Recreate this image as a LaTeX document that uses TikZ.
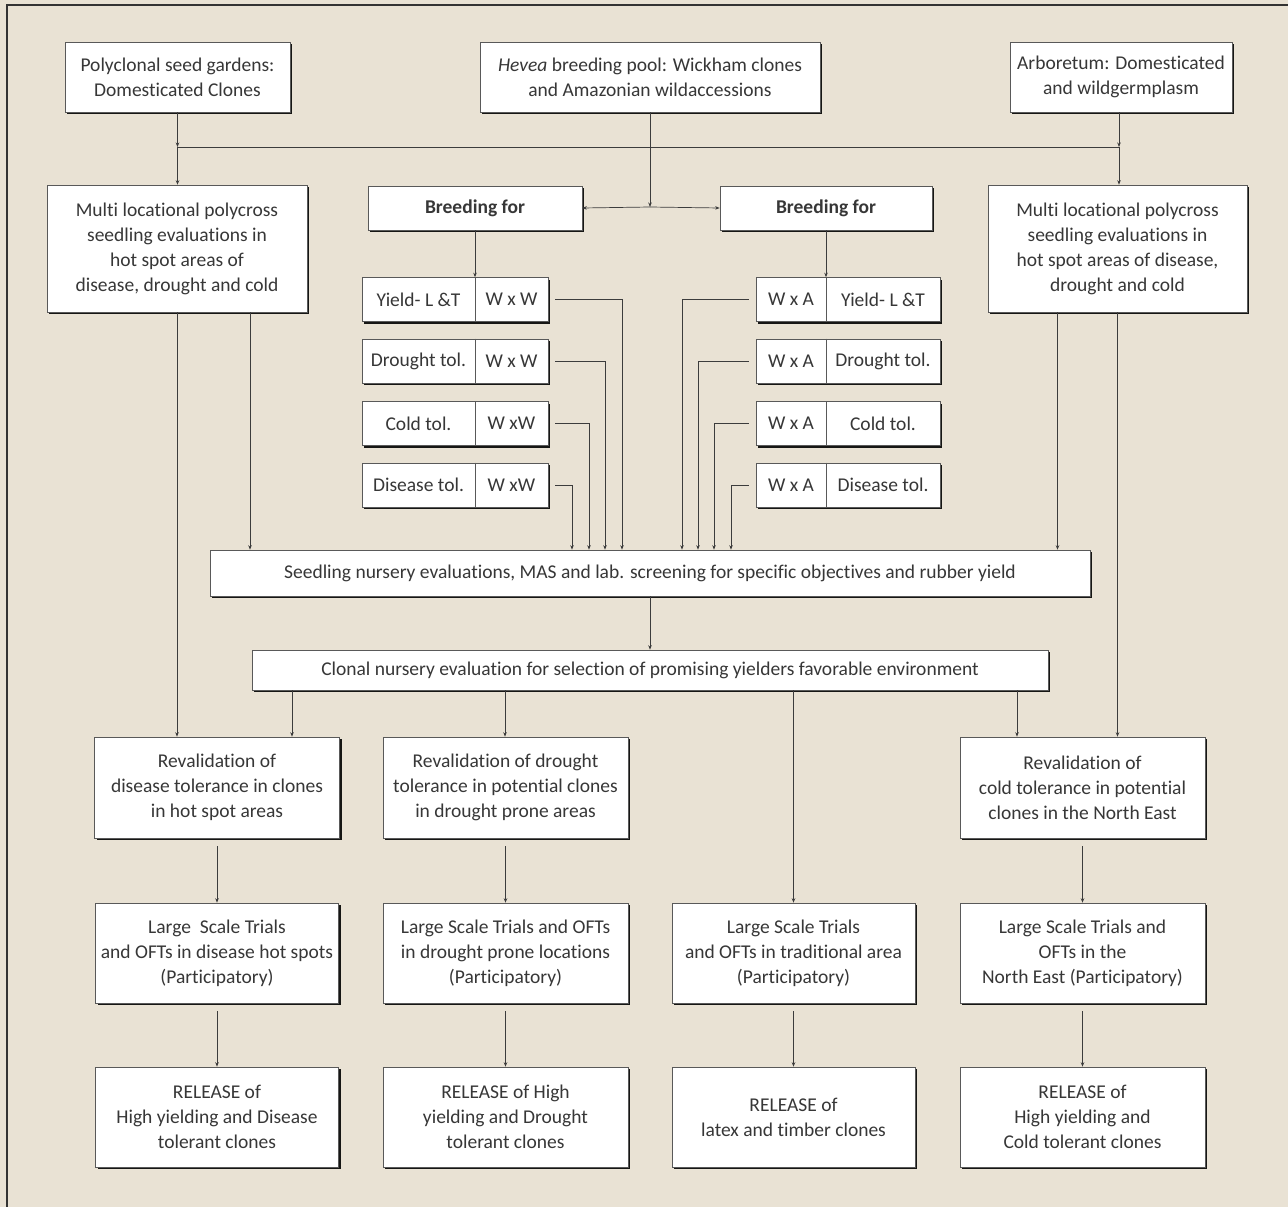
\documentclass[tikz,border=0pt]{standalone}
\usepackage{fontspec}
\setmainfont[Ligatures=NoCommon]{Carlito}
\usetikzlibrary{arrows.meta,shadows}
\definecolor{bgc}{RGB}{233,226,212}
\definecolor{txt}{RGB}{55,55,55}
\definecolor{lnc}{RGB}{60,60,60}
\tikzset{
  box/.style={draw=black!65, line width=0.6pt, fill=white, align=center, text=txt,
    font=\fontsize{19.5}{25}\selectfont, inner sep=2pt,
    drop shadow={shadow xshift=2.2pt, shadow yshift=-2.2pt, fill=black, opacity=0.9}},
  lbl/.style={text=txt, font=\fontsize{19.5}{25}\selectfont, inner sep=0pt, align=center},
  arr/.style={draw=lnc, line width=0.7pt, -{Stealth[length=4.5pt,width=3.5pt]}},
  ln/.style={draw=lnc, line width=0.7pt},
}
\begin{document}
\begin{tikzpicture}[x=1pt,y=-1pt]
\fill[bgc] (0,0) rectangle (1288,1207);
\useasboundingbox (0,0) rectangle (1288,1207);
\draw[black!80, line width=1.3pt] (7,1207) -- (7,5) -- (1288,5);

% top row
\node[box, minimum width=225pt, minimum height=70pt] (poly) at (177.5,77) {Polyclonal seed gardens:\\Domesticated Clones};
\node[box, minimum width=340pt, minimum height=70pt] (hevea) at (650,77) {{\itshape Hevea} breeding pool: Wickham clones\\and Amazonian wildaccessions};
\node[box, minimum width=222pt, minimum height=70pt] (arb) at (1121,77) {Arboretum: Domesticated\\and wildgermplasm};

% second row
\node[box, minimum width=260pt, minimum height=127pt] (multiL) at (177,248.5) {Multi locational polycross\\seedling evaluations in\\hot spot areas of\\disease, drought and cold};
\node[box, minimum width=259pt, minimum height=127pt] (multiR) at (1117.5,248.5) {Multi locational polycross\\seedling evaluations in\\hot spot areas of disease,\\drought and cold};
\node[box, minimum width=214pt, minimum height=44pt, font=\fontsize{19.5}{25}\selectfont\bfseries] (bfL) at (475,208) {Breeding for};
\node[box, minimum width=212pt, minimum height=44pt, font=\fontsize{19.5}{25}\selectfont\bfseries] (bfR) at (826,208) {Breeding for};

% left table rows
\node[box, minimum width=186pt, minimum height=44pt] (l1) at (455,299.5) {};
\node[box, minimum width=186pt, minimum height=44pt] (l2) at (455,361) {};
\node[box, minimum width=186pt, minimum height=44pt] (l3) at (455,423.5) {};
\node[box, minimum width=186pt, minimum height=44pt] (l4) at (455,485) {};
\foreach \n in {l1,l2,l3,l4}{\draw[black!65, line width=0.6pt] ([xshift=20pt]\n.north) -- ([xshift=20pt]\n.south);}
\node[lbl] (l1a) at (418.5,299.5) {Yield- L \&T};
\node[lbl] (l1b) at (511.5,299.5) {W x W};
\node[lbl] (l2a) at (418.5,361) {Drought tol.};
\node[lbl] (l2b) at (511.5,361) {W x W};
\node[lbl] (l3a) at (418.5,423.5) {Cold tol.};
\node[lbl] (l3b) at (511.5,423.5) {W xW};
\node[lbl] (l4a) at (418.5,485) {Disease tol.};
\node[lbl] (l4b) at (511.5,485) {W xW};

% right table rows
\node[box, minimum width=184pt, minimum height=44pt] (r1) at (848,299.5) {};
\node[box, minimum width=184pt, minimum height=44pt] (r2) at (848,361) {};
\node[box, minimum width=184pt, minimum height=44pt] (r3) at (848,423.5) {};
\node[box, minimum width=184pt, minimum height=44pt] (r4) at (848,485) {};
\foreach \n in {r1,r2,r3,r4}{\draw[black!65, line width=0.6pt] ([xshift=-22pt]\n.north) -- ([xshift=-22pt]\n.south);}
\node[lbl] (r1a) at (791,299.5) {W x A};
\node[lbl] (r1b) at (883,299.5) {Yield- L \&T};
\node[lbl] (r2a) at (791,361) {W x A};
\node[lbl] (r2b) at (883,361) {Drought tol.};
\node[lbl] (r3a) at (791,423.5) {W x A};
\node[lbl] (r3b) at (883,423.5) {Cold tol.};
\node[lbl] (r4a) at (791,485) {W x A};
\node[lbl] (r4b) at (883,485) {Disease tol.};

% seedling and clonal
\node[box, minimum width=880pt, minimum height=46pt] (seed) at (650,573) {Seedling nursery evaluations, MAS and lab. screening for specific objectives and rubber yield};
\node[box, minimum width=796pt, minimum height=40pt] (clonal) at (650,670) {Clonal nursery evaluation for selection of promising yielders favorable environment};

% revalidation
\node[box, minimum width=245pt, minimum height=101pt] (revD) at (217,787.5) {Revalidation of\\disease tolerance in clones\\in hot spot areas};
\node[box, minimum width=245pt, minimum height=101pt] (revDr) at (505.5,787.5) {Revalidation of drought\\tolerance in potential clones\\in drought prone areas};
\node[box, minimum width=245pt, minimum height=101pt] (revC) at (1082.5,787.5) {Revalidation of\\cold tolerance in potential\\clones in the North East};

% large scale trials
\node[box, minimum width=243pt, minimum height=100pt] (lsD) at (217,953) {Large\ \ Scale Trials\\and OFTs in disease hot spots\\(Participatory)};
\node[box, minimum width=245pt, minimum height=100pt] (lsDr) at (505.5,953) {Large Scale Trials and OFTs\\in drought prone locations\\(Participatory)};
\node[box, minimum width=243pt, minimum height=100pt] (lsT) at (793.5,953) {Large Scale Trials\\and OFTs in traditional area\\(Participatory)};
\node[box, minimum width=245pt, minimum height=100pt] (lsC) at (1082.5,953) {Large Scale Trials and\\OFTs in the\\North East (Participatory)};

% release
\node[box, minimum width=243pt, minimum height=100pt] (relD) at (217,1117) {RELEASE of\\High yielding and Disease\\tolerant clones};
\node[box, minimum width=245pt, minimum height=100pt] (relDr) at (505.5,1117) {RELEASE of High\\yielding and Drought\\tolerant clones};
\node[box, minimum width=243pt, minimum height=100pt] (relT) at (793.5,1117) {RELEASE of\\latex and timber clones};
\node[box, minimum width=245pt, minimum height=100pt] (relC) at (1082.5,1117) {RELEASE of\\High yielding and\\Cold tolerant clones};

% bus at top
\coordinate (busL) at (177.5,147);
\coordinate (busR) at (1119,147);
\coordinate (hj) at (650,207);
\draw[arr] (poly.south) -- (busL);
\draw[arr] (arb.south -| busR) -- (busR);
\draw[ln] (busL) -- (busR);
\draw[arr] (busL) -- (busL |- multiL.north);
\draw[arr] (busR) -- (busR |- multiR.north);
\draw[arr] (hevea.south) -- (hj);
\draw[arr] (hj) -- (bfL.east);
\draw[arr] (hj) -- (bfR.west);
\draw[arr] (bfL.south) -- (l1.north -| bfL.south);
\draw[arr] (bfR.south) -- (r1.north -| bfR.south);

% table rows to seedling
\draw[arr] ([xshift=7pt]l1.east) -| ([xshift=-28pt]seed.north);
\draw[arr] ([xshift=7pt]l2.east) -| ([xshift=-45pt]seed.north);
\draw[arr] ([xshift=7pt]l3.east) -| ([xshift=-61pt]seed.north);
\draw[arr] ([xshift=7pt]l4.east) -| ([xshift=-78pt]seed.north);
\draw[arr] ([xshift=-7pt]r1.west) -| ([xshift=32pt]seed.north);
\draw[arr] ([xshift=-7pt]r2.west) -| ([xshift=48pt]seed.north);
\draw[arr] ([xshift=-7pt]r3.west) -| ([xshift=64pt]seed.north);
\draw[arr] ([xshift=-7pt]r4.west) -| ([xshift=81pt]seed.north);

% multi boxes down
\draw[arr] (multiL.south) -- (multiL.south |- revD.north);
\draw[arr] ([xshift=73pt]multiL.south) -- ([xshift=73pt]multiL.south |- seed.north);
\draw[arr] ([xshift=-60pt]multiR.south) -- ([xshift=-60pt]multiR.south |- seed.north);
\draw[arr] (multiR.south) -- (multiR.south |- revC.north);

% seedling to clonal
\draw[arr] (seed.south) -- (clonal.north);

% clonal down
\draw[arr] ([xshift=-358pt]clonal.south) -- ([xshift=-358pt]clonal.south |- revD.north);
\draw[arr] ([xshift=-145pt]clonal.south) -- ([xshift=-145pt]clonal.south |- revDr.north);
\draw[arr] ([xshift=143.5pt]clonal.south) -- (lsT.north);
\draw[arr] ([xshift=367pt]clonal.south) -- ([xshift=367pt]clonal.south |- revC.north);

% revalidation to large scale
\draw[arr] ([yshift=-8pt]revD.south) -- (lsD.north);
\draw[arr] ([yshift=-8pt]revDr.south) -- (lsDr.north);
\draw[arr] ([yshift=-8pt]revC.south) -- (lsC.north);

% large scale to release
\draw[arr] ([yshift=-8pt]lsD.south) -- (relD.north);
\draw[arr] ([yshift=-8pt]lsDr.south) -- (relDr.north);
\draw[arr] ([yshift=-8pt]lsT.south) -- (relT.north);
\draw[arr] ([yshift=-8pt]lsC.south) -- (relC.north);
\end{tikzpicture}
\end{document}
